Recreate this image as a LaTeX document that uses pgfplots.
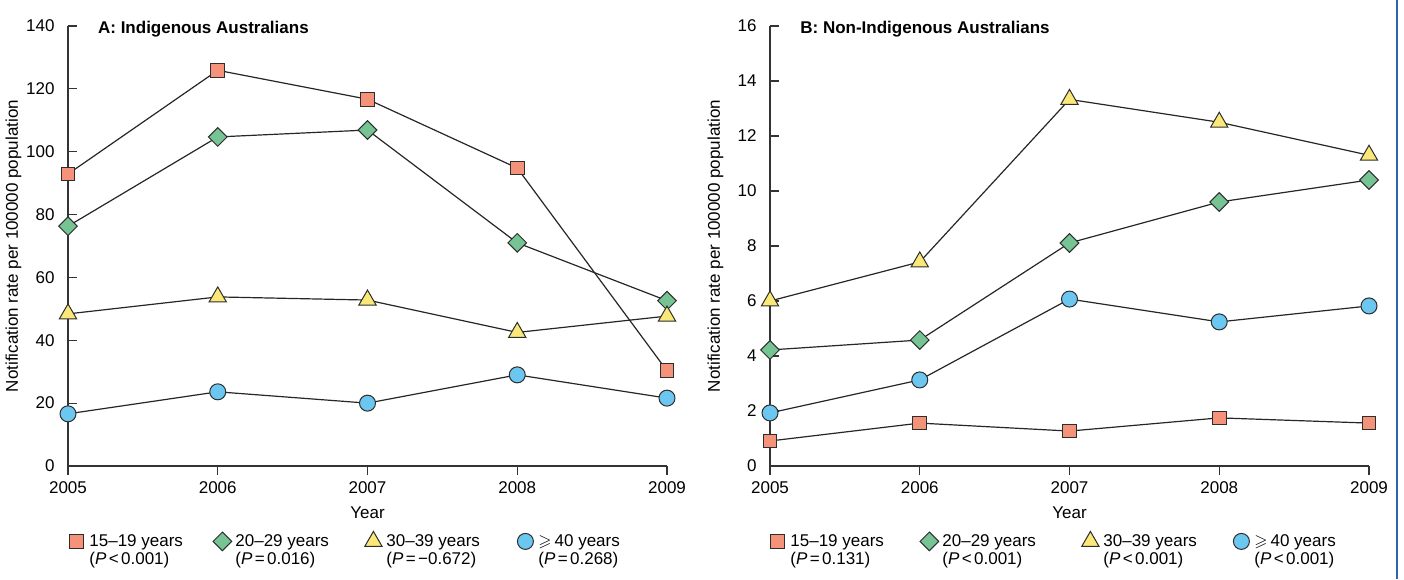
\documentclass[border=0pt]{standalone}
\usepackage{pgfplots}
\pgfplotsset{compat=1.18}
\usepackage{amssymb}
\usepackage{fontspec}
\setmainfont{Liberation Sans}

\definecolor{cSq}{RGB}{244,147,122}
\definecolor{cDi}{RGB}{118,195,147}
\definecolor{cTr}{RGB}{251,232,120}
\definecolor{cCi}{RGB}{107,199,240}
\definecolor{cEdge}{RGB}{45,45,45}
\definecolor{cBorder}{RGB}{45,100,175}

\newcommand{\lent}[3]{\makebox[#1][l]{\hspace{1.5pt}\rlap{\raisebox{-9.2pt}[0pt][0pt]{#3}}#2}}
\newcommand{\Pv}[2]{(\textit{P}\kern1.2pt#1\kern1.2pt#2)}

\pgfplotsset{
  ser/.style={draw=black!85, line width=0.6pt},
  sq/.style={ser, mark=square*, mark size=3.4pt, mark options={solid, fill=cSq, draw=cEdge, line width=0.5pt}},
  di/.style={ser, mark=square*, mark size=3.3pt, mark options={solid, fill=cDi, draw=cEdge, rotate=45, line width=0.5pt}},
  tr/.style={ser, mark=triangle*, mark size=5pt, mark options={solid, fill=cTr, draw=cEdge, line width=0.5pt}},
  ci/.style={ser, mark=*, mark size=4pt, mark options={solid, fill=cCi, draw=cEdge, line width=0.5pt}},
  panel/.style={
    scale only axis, width=299.5pt, height=220pt,
    axis x line*=bottom, axis y line*=left,
    axis line style={line width=0.6pt, draw=black!80},
    xmin=2005, xmax=2009, ymin=0,
    xtick={2005,2006,2007,2008,2009},
    /pgf/number format/1000 sep={},
    /pgf/number format/assume math mode=true,
    tick align=inside, major tick length=4.5pt,
    tick style={line width=0.6pt, draw=black!80},
    every major x tick/.append style={yshift=-4.5pt},
    yticklabel style={inner sep=0pt, anchor=east, xshift=-6.5pt},
    xticklabel style={inner sep=0pt, anchor=north, yshift=-7.5pt},
    every axis y label/.style={at={(axis description cs:-0.0835,0.5)}, rotate=90, anchor=base},
    every axis x label/.style={at={(axis description cs:0.5,-0.1068)}, anchor=center},
    xlabel={Year},
    ylabel={Notification rate per 100000 population},
    clip=false,
    legend columns=4,
    legend cell align=left,
    legend image code/.code={\path[draw=none, fill=none] (-5pt,-6pt) rectangle (5pt,6pt); \draw[##1] plot coordinates {(0pt,0pt)};},
    legend style={draw=none, fill=none, inner sep=0pt, column sep=0pt, row sep=0pt,
      nodes={inner sep=0pt, anchor=west}},
  }
}

\begin{document}
\fontsize{8.5pt}{10.2pt}\selectfont
\begin{tikzpicture}
\useasboundingbox (0pt,0pt) rectangle (702pt,289.5pt);

\begin{axis}[panel, at={(34pt,56.5pt)}, anchor=south west,
  ymax=140, ytick={0,20,...,140},
  title={\bfseries A: Indigenous Australians},
  every axis title/.style={at={(axis description cs:0.0496,1)}, anchor=base west, yshift=-3.65pt, inner sep=0pt},
  legend style={at={(axis description cs:-0.0033,-0.1432)}, anchor=north west}]
\addplot[sq] coordinates {(2005,92.9)(2006,125.9)(2007,116.7)(2008,94.8)(2009,30.3)};
\addlegendentry{\lent{63pt}{15–19 years}{\Pv{<}{0.001}}}
\addplot[di] coordinates {(2005,76.3)(2006,104.7)(2007,106.9)(2008,71.0)(2009,52.6)};
\addlegendentry{\lent{65.5pt}{20–29 years}{\Pv{=}{0.016}}}
\addplot[tr] coordinates {(2005,48.4)(2006,53.8)(2007,52.8)(2008,42.5)(2009,47.7)};
\addlegendentry{\lent{66pt}{30–39 years}{\Pv{=}{−0.672}}}
\addplot[ci] coordinates {(2005,16.6)(2006,23.6)(2007,20.0)(2008,29.0)(2009,21.6)};
\addlegendentry{\lent{50pt}{$\geqslant$\kern1.5pt40 years}{\Pv{=}{0.268}}}
\end{axis}

\begin{axis}[panel, at={(385pt,56.5pt)}, anchor=south west,
  ymax=16, ytick={0,2,...,16},
  title={\bfseries B: Non-Indigenous Australians},
  every axis title/.style={at={(axis description cs:0.05,1)}, anchor=base west, yshift=-3.65pt, inner sep=0pt},
  legend style={at={(axis description cs:-0.005,-0.1432)}, anchor=north west}]
\addplot[sq] coordinates {(2005,0.91)(2006,1.56)(2007,1.27)(2008,1.75)(2009,1.56)};
\addlegendentry{\lent{66pt}{15–19 years}{\Pv{=}{0.131}}}
\addplot[di] coordinates {(2005,4.22)(2006,4.58)(2007,8.11)(2008,9.60)(2009,10.40)};
\addlegendentry{\lent{70.5pt}{20–29 years}{\Pv{<}{0.001}}}
\addplot[tr] coordinates {(2005,6.0)(2006,7.42)(2007,13.33)(2008,12.5)(2009,11.3)};
\addlegendentry{\lent{65.5pt}{30–39 years}{\Pv{<}{0.001}}}
\addplot[ci] coordinates {(2005,1.93)(2006,3.13)(2007,6.07)(2008,5.24)(2009,5.82)};
\addlegendentry{\lent{50pt}{$\geqslant$\kern1.5pt40 years}{\Pv{<}{0.001}}}
\end{axis}

\draw[cBorder, line width=1pt] (698.5pt,0pt) -- (698.5pt,289.5pt);
\end{tikzpicture}
\end{document}
